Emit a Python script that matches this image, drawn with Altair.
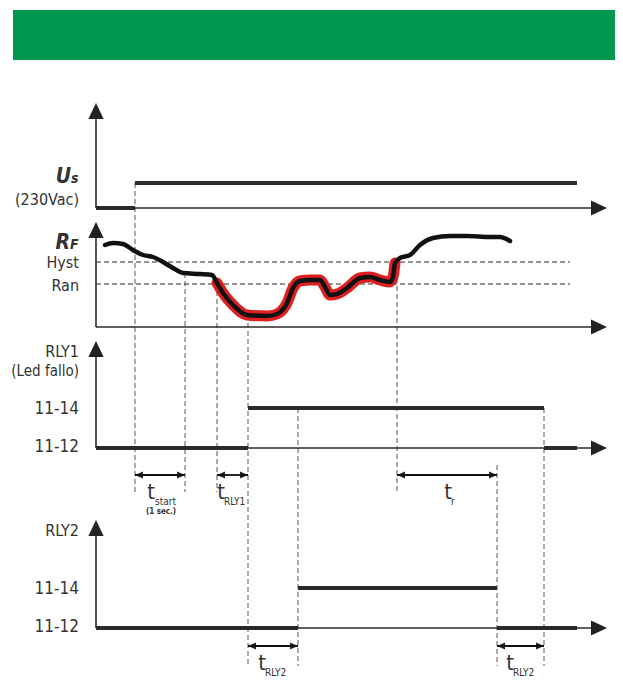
import altair as alt
import pandas as pd

# ---------------- diagram data (time units along x, level units along y) -------------
# key instants
T0 = 96
t_power = 135
t_start_end = 185
t_ran = 217
t_rly1 = 248
t_rly2 = 298
t_hyst = 397
t_r_end = 497
t_off1 = 544
t_sig_end = 577
t_axis_end = 607

# track baselines / levels
us_low, us_high = 208, 183
rf_base, rf_hyst, rf_ran = 327, 262, 284
r1_low, r1_high = 448, 408
r2_low, r2_high = 628, 588

# RF (fault resistance) curve
rf_t = [105, 113, 123, 133, 143, 153, 163, 173, 183, 200, 212, 217, 223, 233, 247, 267,
        277, 287, 293, 300, 310, 320, 325, 330, 337, 347, 360, 370, 380, 390, 393, 395,
        400, 410, 420, 433, 450, 467, 490, 500, 510]
rf_v = [245, 243, 244, 250, 255, 257, 262, 268, 273, 274, 275, 283, 293, 305, 315, 316,
        314, 303, 288, 281, 280, 280, 287, 295, 294, 288, 278, 277, 280, 282, 277, 263,
        258, 255, 245, 238, 236, 236, 237, 237, 241]

# signal segments: start, end, level
sig_x1 = [T0, t_power, T0, t_rly1, t_off1, T0, t_rly2, t_r_end]
sig_x2 = [t_power, t_sig_end, t_rly1, t_off1, t_sig_end, t_rly2, t_r_end, t_sig_end]
sig_y = [us_low, us_high, r1_low, r1_high, r1_low, r2_low, r2_high, r2_low]

# vertical dashed markers: time, from level, to level
mk_t = [t_power, t_start_end, t_ran, t_rly1, t_hyst, t_rly2, t_r_end, t_off1]
mk_y1 = [183, 273, 283, 315, 262, 408, 465, 408]
mk_y2 = [492, 492, 492, 666, 492, 666, 666, 666]

# dimension arrows
dim_x1 = [t_power, t_ran, t_hyst, t_rly1, t_r_end]
dim_x2 = [t_start_end, t_rly1, t_r_end, t_rly2, t_off1]
dim_y = [475, 475, 475, 646, 646]

# axes
axis_base = [us_low, rf_base, r1_low, r2_low]
axis_top = [103, 222, 341, 520]

# labels
lab_text = ["(230Vac)", "Hyst", "Ran", "RLY1", "(Led fallo)", "11-14", "11-12", "RLY2", "11-14", "11-12"]
lab_y = [200, 263, 286, 352, 371, 409, 447, 531, 589, 627]
lab_size = [16, 16, 16, 16, 15, 17, 17, 16, 17, 17]

t_main_x = [151, 221, 448, 262, 510]
t_main_y = [492, 492, 492, 663, 663]
t_sub_text = ["start", "RLY1", "r", "RLY2", "RLY2"]
t_sub_x = [155, 224, 451, 265, 513]
t_sub_y = [502, 502, 502, 673, 673]

FONT = "Liberation Sans Narrow, DejaVu Sans Condensed, Liberation Sans, sans-serif"
INK = "#2b2b2b"

XS = alt.Scale(domain=[8, 615], nice=False, zero=False)
YS = alt.Scale(domain=[8, 681], nice=False, zero=False, reverse=True)


def X(f):
    return alt.X(f, type="quantitative", scale=XS, axis=None)


def Y(f):
    return alt.Y(f, type="quantitative", scale=YS, axis=None)


layers = []

# green banner
banner = pd.DataFrame({"x": [13], "x2": [623], "y": [10], "y2": [60]})
layers.append(alt.Chart(banner).mark_rect(color="#00984f").encode(
    x=X("x"), x2="x2", y=Y("y"), y2="y2"))

# threshold dashed lines
thr = pd.DataFrame({"x": [T0, T0], "x2": [570, 570], "y": [rf_hyst, rf_ran]})
layers.append(alt.Chart(thr).mark_rule(color=INK, strokeWidth=1, strokeDash=[5, 3]).encode(
    x=X("x"), x2="x2", y=Y("y")))

# vertical dashed markers
mk = pd.DataFrame({"x": mk_t, "y": mk_y1, "y2": mk_y2})
layers.append(alt.Chart(mk).mark_rule(color="#555555", strokeWidth=1, strokeDash=[5, 3]).encode(
    x=X("x"), y=Y("y"), y2="y2"))

# axes
av = pd.DataFrame({"x": [T0] * 4, "y": [v + 8 for v in axis_top], "y2": axis_base})
layers.append(alt.Chart(av).mark_rule(color=INK, strokeWidth=1.6).encode(
    x=X("x"), y=Y("y"), y2="y2"))
ah = pd.DataFrame({"x": [T0] * 4, "x2": [t_axis_end - 8] * 4, "y": axis_base})
layers.append(alt.Chart(ah).mark_rule(color=INK, strokeWidth=1.6).encode(
    x=X("x"), x2="x2", y=Y("y")))

UP = "M0,0L-0.95,2L0.95,2Z"
RIGHT = "M0,0L-2,-0.95L-2,0.95Z"
LEFT = "M0,0L2,-0.85L2,0.85Z"
RIGHT_S = "M0,0L-2,-0.85L-2,0.85Z"

heads = pd.DataFrame({
    "x": [T0] * 4 + [t_axis_end] * 4 + dim_x1 + dim_x2,
    "y": axis_top + axis_base + dim_y + dim_y,
    "shape": [UP] * 4 + [RIGHT] * 4 + [LEFT] * 5 + [RIGHT_S] * 5,
    "size": [256] * 8 + [64] * 10,
})
layers.append(alt.Chart(heads).mark_point(filled=True, color="#222222", opacity=1, strokeWidth=0).encode(
    x=X("x"), y=Y("y"),
    shape=alt.Shape("shape:N", scale=None),
    size=alt.Size("size:Q", scale=None)))

# dimension lines
dim = pd.DataFrame({"x": dim_x1, "x2": dim_x2, "y": dim_y})
layers.append(alt.Chart(dim).mark_rule(color="#111111", strokeWidth=1.8).encode(
    x=X("x"), x2="x2", y=Y("y")))

# signals
sig = pd.DataFrame({"x": sig_x1, "x2": sig_x2, "y": sig_y})
layers.append(alt.Chart(sig).mark_rule(color=INK, strokeWidth=4).encode(
    x=X("x"), x2="x2", y=Y("y")))

# RF curve (red highlight under black)
rf = pd.DataFrame({"t": rf_t, "v": rf_v})
layers.append(alt.Chart(rf).transform_filter("datum.t >= 215 && datum.t <= 397").mark_line(
    color="#e02020", strokeWidth=11, interpolate="monotone", strokeCap="round", strokeJoin="round").encode(
    x=X("t"), y=Y("v")))
layers.append(alt.Chart(rf).mark_line(
    color="#111111", strokeWidth=4.5, interpolate="monotone", strokeCap="round", strokeJoin="round").encode(
    x=X("t"), y=Y("v")))

# labels
lab = pd.DataFrame({"x": [79] * len(lab_text), "y": lab_y, "text": lab_text, "size": lab_size})
layers.append(alt.Chart(lab).mark_text(align="right", baseline="middle", font=FONT,
                                       color="#333333").encode(
    x=X("x"), y=Y("y"), text="text:N", size=alt.Size("size:Q", scale=None)))

big = pd.DataFrame({"x": [71, 70], "y": [177, 243], "text": ["U", "R"]})
layers.append(alt.Chart(big).mark_text(align="right", baseline="middle", font=FONT, fontSize=21,
                                       fontWeight="bold", fontStyle="italic", color="#333333").encode(
    x=X("x"), y=Y("y"), text="text:N"))
small = pd.DataFrame({"x": [71, 70], "y": [179, 245], "text": ["s", "F"]})
layers.append(alt.Chart(small).mark_text(align="left", baseline="middle", font=FONT, fontSize=14,
                                         fontWeight="bold", fontStyle="italic", color="#333333").encode(
    x=X("x"), y=Y("y"), text="text:N"))

tm = pd.DataFrame({"x": t_main_x, "y": t_main_y, "text": ["t"] * 5})
layers.append(alt.Chart(tm).mark_text(align="center", baseline="middle", font=FONT, fontSize=22,
                                      color="#333333").encode(x=X("x"), y=Y("y"), text="text:N"))
ts = pd.DataFrame({"x": t_sub_x, "y": t_sub_y, "text": t_sub_text})
layers.append(alt.Chart(ts).mark_text(align="left", baseline="middle", font=FONT, fontSize=10,
                                      color="#333333").encode(x=X("x"), y=Y("y"), text="text:N"))
note = pd.DataFrame({"x": [161], "y": [512], "text": ["(1 sec.)"]})
layers.append(alt.Chart(note).mark_text(align="center", baseline="middle", font=FONT, fontSize=8,
                                        fontWeight="bold", color="#333333").encode(
    x=X("x"), y=Y("y"), text="text:N"))

chart = alt.layer(*layers).properties(
    width=607, height=673, padding=0, autosize=alt.AutoSizeParams(type="none")
).configure_view(strokeWidth=0)

chart.save("out.html", embed_options={"renderer": "svg", "actions": False})
